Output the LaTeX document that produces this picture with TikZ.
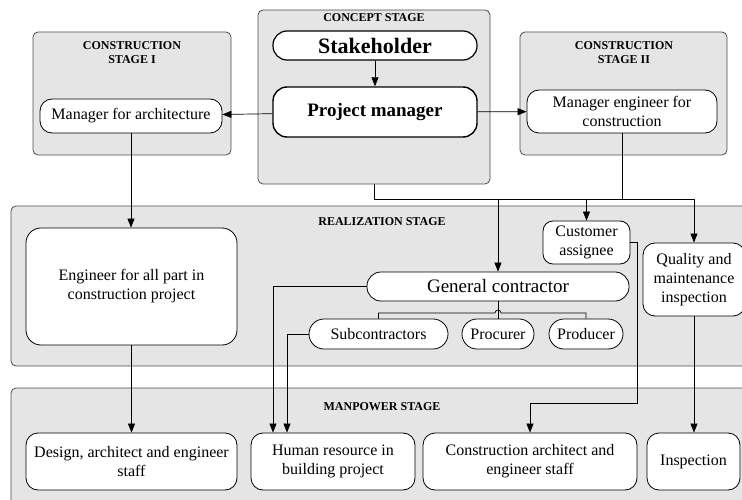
\documentclass[tikz,border=0pt]{standalone}
\usepackage{fontspec}
\setmainfont{Liberation Serif}
\usetikzlibrary{arrows.meta,positioning}

\begin{document}
\begin{tikzpicture}[x=1pt,y=-1pt,>={Triangle[length=9pt,width=7pt]},
 stage/.style={draw=black!70,line width=0.8pt,fill=black!10,rounded corners=5pt,inner sep=0pt},
 title/.style={font=\bfseries\fontsize{12}{13.5}\selectfont,align=center,inner sep=0pt},
 box/.style={draw=black,line width=0.8pt,fill=white,rounded corners=12pt,align=center,inner sep=2pt,font=\fontsize{16}{19}\selectfont},
 pill/.style={box,rounded corners=14pt},
 flow/.style={->,black,line width=0.7pt},
 link/.style={black,line width=0.7pt}]
\useasboundingbox (0,0) rectangle (742,500);

% stages
\node[stage,minimum width=198pt,minimum height=123pt] (cs1) at (132,93.5) {};
\node[stage,minimum width=232pt,minimum height=174pt] (concept) at (374,97) {};
\node[stage,minimum width=207pt,minimum height=123pt] (cs2) at (623.5,93.5) {};
\node[stage,minimum width=736pt,minimum height=160pt] (real) at (379,286) {};
\node[stage,minimum width=736pt,minimum height=118pt] (man) at (379,447) {};

\node[title] (cs1t) at (132,52.5) {CONSTRUCTION\\STAGE I};
\node[title] (conceptt) at (374,18) {CONCEPT STAGE};
\node[title] (cs2t) at (624,52.5) {CONSTRUCTION\\STAGE II};
\node[title] (realt) at (382,222) {REALIZATION STAGE};
\node[title] (mant) at (382,407) {MANPOWER STAGE};

% concept and construction
\node[pill,line width=1.2pt,minimum width=204pt,minimum height=29pt,font=\bfseries\fontsize{22}{24}\selectfont] (stake) at (375,45.5) {Stakeholder};
\node[box,line width=1.4pt,rounded corners=14pt,minimum width=204pt,minimum height=50pt,font=\bfseries\fontsize{19}{22}\selectfont] (pm) at (375,112) {Project manager};
\node[box,minimum width=182pt,minimum height=34pt] (mfa) at (131,116) {Manager for architecture};
\node[box,minimum width=190pt,minimum height=43pt] (mec) at (622,111.5) {Manager engineer for\\construction};

% realization
\node[box,rounded corners=15pt,minimum width=211pt,minimum height=117pt] (eng) at (131.5,286.5) {Engineer for all part in\\construction project};
\node[box,rounded corners=10pt,minimum width=87pt,minimum height=43pt] (cust) at (586.5,242.5) {Customer\\assignee};
\node[pill,minimum width=262pt,minimum height=29pt,font=\fontsize{19}{22}\selectfont] (gc) at (498,286.5) {General contractor};
\node[box,minimum width=102pt,minimum height=73pt] (qual) at (694,279.5) {Quality and\\maintenance\\inspection};
\node[pill,rounded corners=15pt,minimum width=139pt,minimum height=30pt] (sub) at (378.5,334) {Subcontractors};
\node[pill,rounded corners=15pt,minimum width=72pt,minimum height=30pt] (proc) at (498,334) {Procurer};
\node[pill,rounded corners=15pt,minimum width=74pt,minimum height=30pt] (prod) at (586,334) {Producer};

% manpower
\node[box,minimum width=211pt,minimum height=57pt] (design) at (131.5,461.5) {Design, architect and engineer\\staff};
\node[box,minimum width=164pt,minimum height=57pt] (hr) at (333,461.5) {Human resource in\\building project};
\node[box,minimum width=214pt,minimum height=57pt] (cae) at (530,461.5) {Construction architect and\\engineer staff};
\node[box,minimum width=93pt,minimum height=57pt] (insp) at (693.5,461.5) {Inspection};

\coordinate (bus) at (0,199);

\draw[flow] (stake) -- (pm);
\draw[flow] (pm) -- (mfa);
\draw[flow] (pm) -- (mec);
\draw[flow] (mfa.south) -- (mfa.south |- eng.north);
\draw[flow] (concept.south) |- (bus -| qual.north) -- (qual.north);
\draw[link] (mec.south) -- (mec.south |- bus);
\draw[flow] (gc.north |- bus) -- (gc.north);
\draw[flow] (cust.north |- bus) -- (cust.north);
\draw[link] (gc.south) -- (proc.north);
\draw[link] (sub.north) -- (378.5,313) -- (495,313) arc (180:360:3) -- (586,313) -- (prod.north);
\draw[flow] (gc.west) -| ([xshift=-60pt]hr.north);
\draw[flow] (sub.west) -| ([xshift=-46pt]hr.north);
\draw[flow] (cust.east) -| (637,403) -| (cae.north);
\draw[flow] (qual.south) -- (qual.south |- insp.north);
\draw[flow] (eng.south) -- (eng.south |- design.north);
\end{tikzpicture}
\end{document}
